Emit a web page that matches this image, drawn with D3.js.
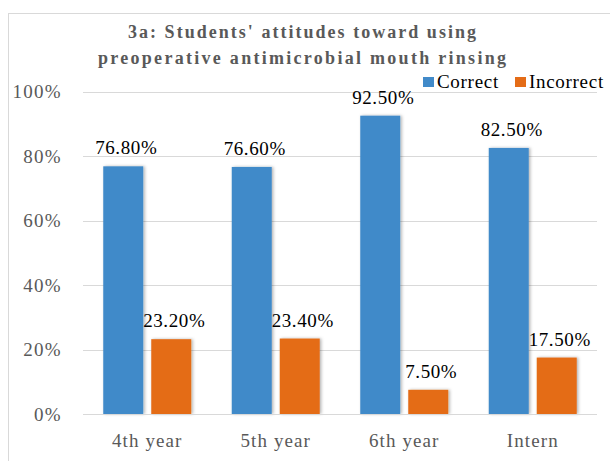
<!DOCTYPE html>
<html>
<head>
<meta charset="utf-8">
<script src="https://cdn.jsdelivr.net/npm/d3@7"></script>
</head>
<body style="margin:0; background:#fff">
<div id="chart"></div>
<script>
// chart data
var categories = ["4th year", "5th year", "6th year", "Intern"];
var seriesNames = ["Correct", "Incorrect"];
var correctValues = [76.8, 76.6, 92.5, 82.5];
var incorrectValues = [23.2, 23.4, 7.5, 17.5];
var yTicks = [0, 20, 40, 60, 80, 100];
var titleLines = ["3a: Students' attitudes toward using", "preoperative antimicrobial mouth rinsing"];

var colors = { "Correct": "#418AC9", "Incorrect": "#E46C17" };
var font = "'Liberation Serif'";

var width = 610, height = 461;
var svg = d3.select("#chart").append("svg")
  .attr("width", width)
  .attr("height", height);

// drop shadow like the office chart
var defs = svg.append("defs");
var filter = defs.append("filter").attr("id", "shadow")
  .attr("x", "-20%").attr("y", "-10%").attr("width", "140%").attr("height", "120%");
filter.append("feDropShadow")
  .attr("dx", 1.5).attr("dy", 0).attr("stdDeviation", 1.5)
  .attr("flood-color", "#000").attr("flood-opacity", 0.3);

// chart border
svg.append("rect")
  .attr("x", 8.5).attr("y", 13.5)
  .attr("width", 700).attr("height", 500)
  .attr("fill", "none")
  .attr("stroke", "#d9d9d9");

var x0 = d3.scaleBand().domain(categories).range([83, 597]);
var bw = x0.bandwidth();
var x1 = d3.scaleBand().domain(seriesNames)
  .range([bw / 2 - 44, bw / 2 + 44])
  .paddingInner(2 - 88 / 48);
var y = d3.scaleLinear().domain([0, 100]).range([414, 91.5]);

// gridlines
svg.append("g").selectAll("line")
  .data(yTicks.filter(d => d > 0))
  .enter().append("line")
  .attr("x1", 83).attr("x2", 597)
  .attr("y1", d => Math.round(y(d)) + 0.5)
  .attr("y2", d => Math.round(y(d)) + 0.5)
  .attr("stroke", "#d9d9d9");

// y labels
svg.append("g").selectAll("text")
  .data(yTicks)
  .enter().append("text")
  .attr("x", 62)
  .attr("y", d => y(d) + 6.5)
  .attr("text-anchor", "end")
  .attr("fill", "#595959")
  .style("font-family", font)
  .style("font-size", "19px")
  .style("letter-spacing", "1.3px")
  .text(d => d + "%");

var rows = categories.map(function(c, i) {
  return { cat: c, values: [
    { name: "Correct", value: correctValues[i] },
    { name: "Incorrect", value: incorrectValues[i] }
  ]};
});

var groups = svg.append("g").selectAll("g")
  .data(rows)
  .enter().append("g")
  .attr("transform", d => "translate(" + x0(d.cat) + ",0)");

groups.selectAll("rect")
  .data(d => d.values)
  .enter().append("rect")
  .attr("x", d => x1(d.name))
  .attr("width", x1.bandwidth())
  .attr("y", d => y(d.value))
  .attr("height", d => y(0) - y(d.value))
  .attr("fill", d => colors[d.name])
  .attr("filter", "url(#shadow)");

groups.selectAll("text")
  .data(d => d.values)
  .enter().append("text")
  .attr("x", d => x1(d.name) + x1.bandwidth() / 2 + 3)
  .attr("y", d => y(d.value) - 12)
  .attr("text-anchor", "middle")
  .attr("fill", "#000")
  .style("font-family", font)
  .style("font-size", "19px")
  .style("letter-spacing", "0.6px")
  .text(d => d.value.toFixed(2) + "%");

// baseline on top of bars
svg.append("line")
  .attr("x1", 83).attr("x2", 597)
  .attr("y1", 414.5).attr("y2", 414.5)
  .attr("stroke", "#d9d9d9");

// x labels
svg.append("g").selectAll("text")
  .data(categories)
  .enter().append("text")
  .attr("x", d => x0(d) + bw / 2)
  .attr("y", 447)
  .attr("text-anchor", "middle")
  .attr("fill", "#595959")
  .style("font-family", font)
  .style("font-size", "19px")
  .style("letter-spacing", "1.1px")
  .text(d => d);

// title
var titleWidths = [348, 408];
var titleBase = [38, 64];
svg.append("g").selectAll("text")
  .data(titleLines)
  .enter().append("text")
  .attr("x", (d, i) => 302 - titleWidths[i] / 2)
  .attr("y", (d, i) => titleBase[i])
  .attr("textLength", (d, i) => titleWidths[i])
  .attr("lengthAdjust", "spacing")
  .attr("fill", "#595959")
  .style("font-family", font)
  .style("font-size", "18px")
  .style("font-weight", "bold")
  .text(d => d);

// legend
var legendX = [423, 515];
var legend = svg.append("g").selectAll("g")
  .data(seriesNames)
  .enter().append("g")
  .attr("transform", (d, i) => "translate(" + legendX[i] + ",77)");
legend.append("rect")
  .attr("width", 11).attr("height", 10)
  .attr("fill", d => colors[d]);
legend.append("text")
  .attr("x", 14).attr("y", 11)
  .attr("fill", "#000")
  .style("font-family", font)
  .style("font-size", "19px")
  .style("letter-spacing", "0.7px")
  .text(d => d);
</script>
</body>
</html>
